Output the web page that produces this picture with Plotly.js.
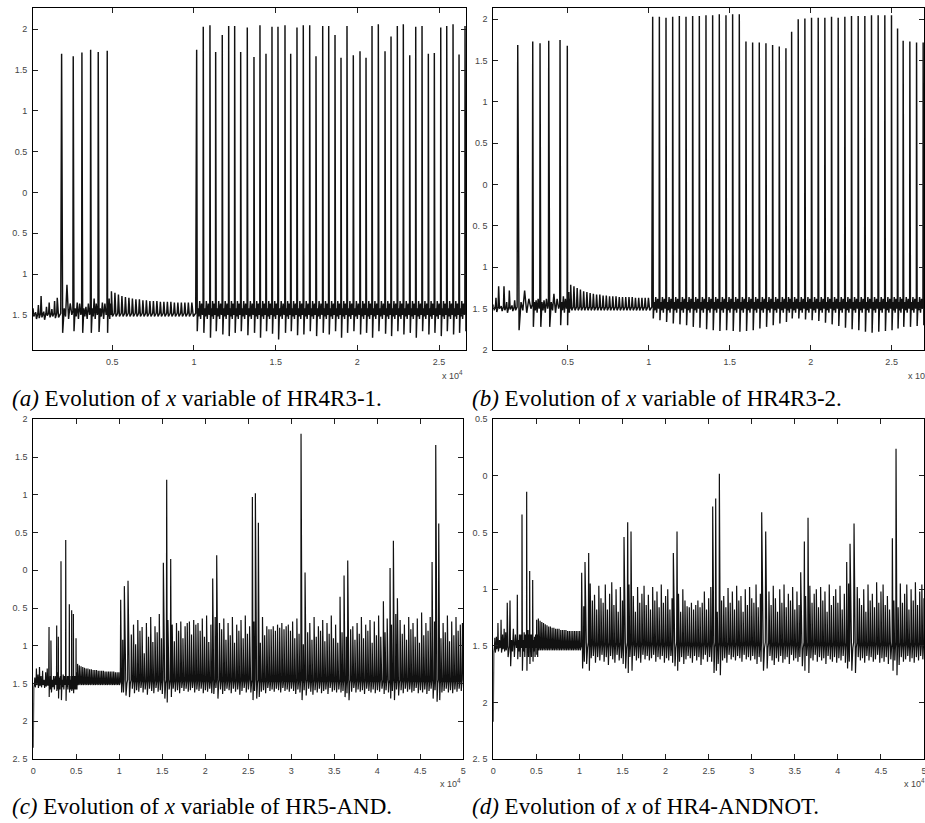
<!DOCTYPE html>
<html>
<head>
<meta charset="utf-8">
<script src="https://cdn.plot.ly/plotly-3.0.1.min.js"></script>
<style>html,body{margin:0;padding:0;background:#fff;}#chart{width:925px;height:823px;}</style>
</head>
<body>
<div id="chart"></div>
<script>
// ---------------- DATA ----------------
// Panel (a) HR4R3-1
const aInitStart = 150, aInitStep = 165;
const aInitPeaks   = [-1.42,-1.47,-1.38,-1.27,-1.46,-1.40,-1.35,-1.43,-1.33,-1.29];
const aInitTroughs = [-1.52,-1.55,-1.54,-1.53,-1.56,-1.51,-1.53,-1.52,-1.54,-1.53];
const aBurstT = [1901, 2612, 3144, 3677, 4142, 4693];
const aBurstP = [1.70, 1.67, 1.715, 1.75, 1.72, 1.735];
const aBurstM = [-1.72,-1.70,-1.72,-1.72,-1.71,-1.72];
const aBurstB = [-1.13,-1.35,-1.40,-1.30,-1.35,-1.30];
const aQuietStart = 4950, aQuietStep = 214;
const aQuietPeaks = [-1.21,-1.23,-1.25,-1.27,-1.28,-1.29,-1.30,-1.31,-1.31,-1.32,-1.32,-1.33,-1.33,-1.33,-1.34,-1.34,-1.34,-1.34,-1.35,-1.35,-1.35,-1.35,-1.35,-1.35];
const aQuietLevels = [-1.52, -1.48];
const aTrainT = [10166,10570,10980,11329,11733,12125,12492,12860,13264,13674,14041,
                 14409,14776,15143,15572,15921,16306,16692,17084,17470,17880,18247,
                 18633,19000,19367,19753,20163,20531,20898,21284,21694,22061,22447,
                 22814,23206,23573,23959,24345,24712,25104,25471,25857,26224,26591];
const aTrainP = [1.75,2.03,2.05,1.72,1.93,2.04,2.04,1.72,2.02,1.66,2.05,
                 1.70,2.03,2.03,2.05,1.70,2.02,2.05,2.05,1.67,2.04,2.04,
                 1.93,1.65,2.04,1.68,1.73,1.65,2.04,2.06,1.73,1.91,2.04,
                 2.06,1.68,2.03,2.04,1.70,1.71,2.02,2.04,2.06,1.69,2.04];
const aTrainM = [-1.70,-1.72,-1.78,-1.70,-1.74,-1.76,-1.72,-1.70,-1.75,-1.72,-1.78,
                 -1.70,-1.73,-1.80,-1.72,-1.70,-1.75,-1.74,-1.70,-1.76,-1.72,-1.74,
                 -1.70,-1.78,-1.72,-1.70,-1.74,-1.72,-1.78,-1.70,-1.73,-1.76,-1.70,
                 -1.74,-1.72,-1.78,-1.70,-1.74,-1.72,-1.76,-1.70,-1.74,-1.72,-1.70];
const aTrainBump = -1.33;
const aBetween = [-1.42,-1.52,-1.55,-1.36,-1.50,-1.45];

// Panel (b) HR4R3-2
const bInitStart = 400, bInitStep = 165;
const bInitPeaks   = [-1.45,-1.37,-1.23,-1.47,-1.23,-1.42,-1.28,-1.46,-1.40];
const bInitTroughs = [-1.52,-1.54,-1.50,-1.53,-1.52,-1.55,-1.51,-1.53,-1.52];
const bBurstT = [1909, 2835, 3286, 3823, 4521, 4971];
const bBurstP = [1.69, 1.73, 1.71, 1.74, 1.75, 1.68];
const bBurstM = [-1.76,-1.72,-1.72,-1.72,-1.70,-1.70];
const bBurstB = [-1.28,-1.40,-1.40,-1.32,-1.35,-1.30];
const bQuietStart = 5180, bQuietStep = 200;
const bQuietPeaks = [-1.21,-1.23,-1.25,-1.27,-1.29,-1.30,-1.31,-1.32,-1.33,-1.33,-1.34,-1.34,-1.35,-1.35,-1.35,-1.36,-1.36,-1.36,-1.36,-1.36,-1.37,-1.37,-1.37,-1.37,-1.37];
const bQuietLevels = [-1.52, -1.48];
const bTrainT = [10243,10655,11066,11478,11889,12301,12712,13124,13535,13947,14358,14770,15181,15593,
                 16004,16416,16827,17239,17650,18062,18473,
                 18824,
                 19231,19643,20054,20466,20877,21289,21700,22112,22523,22935,23346,23758,24169,24581,24992,
                 25367,25713,26127,26540,26948];
const bTrainP = [2.03,2.03,2.02,2.03,2.04,2.03,2.04,2.04,2.05,2.05,2.06,2.05,2.06,2.06,
                 1.73,1.72,1.72,1.71,1.69,1.67,1.65,
                 1.85,
                 2.00,2.01,2.02,2.02,2.02,2.03,2.02,2.03,2.04,2.04,2.04,2.05,2.05,2.05,2.05,
                 1.89,1.74,1.73,1.72,1.72];
const bTrainM = [-1.62,-1.64,-1.66,-1.68,-1.69,-1.70,-1.72,-1.73,-1.75,-1.76,-1.77,-1.76,-1.77,-1.78,
                 -1.77,-1.76,-1.74,-1.72,-1.70,-1.68,-1.66,
                 -1.62,
                 -1.62,-1.63,-1.64,-1.65,-1.67,-1.69,-1.71,-1.73,-1.75,-1.76,-1.78,-1.79,-1.78,-1.77,-1.76,
                 -1.74,-1.72,-1.72,-1.71,-1.70];
const bTrainBump = -1.36;
const bBetween = [-1.42,-1.52,-1.55,-1.38,-1.50,-1.45];

// Panel (c) HR5-AND
const cInitStart = 0, cInitStep = 180;
const cInitPeaks   = [-2.35,-1.42,-1.30,-1.38,-1.28,-1.40,-1.33,-1.45,-1.35,-1.30];
const cInitTroughs = [-1.55,-1.55,-1.52,-1.56,-1.53,-1.55,-1.52,-1.56,-1.54,-1.53];
const cBurstT = [1830, 2050, 2720, 2910, 3220, 3770, 4190, 4460, 4660, 4970];
const cBurstP = [-0.75,-0.93,-0.73,-0.88, 0.12, 0.40,-0.45,-0.53,-0.58,-0.90];
const cBurstM = [-1.68,-1.62,-1.60,-1.70,-1.72,-1.73,-1.62,-1.60,-1.63,-1.58];
const cBurstB = [-1.45,-1.40,-1.35,-1.42,-1.38,-1.40,-1.45,-1.42,-1.40,-1.35];
const cBetween = [-1.45,-1.55,-1.58,-1.40,-1.52,-1.48];
const cQuietStart = 5150, cQuietStep = 200;
const cQuietPeaks = [-1.24,-1.26,-1.27,-1.28,-1.29,-1.30,-1.30,-1.31,-1.31,-1.32,-1.32,-1.32,-1.33,-1.33,-1.33,-1.33,-1.34,-1.34,-1.34,-1.34,-1.34,-1.34,-1.35,-1.35,-1.35];
const cQuietLevels = [-1.52, -1.48];
const cClusterT = [10161,10587,11014,15123,15511,15976,20861,21326,25473,25822,26171,31133,31599,35669,36134,36561,40709,41484,41871,42337,46369,46795,47144];
const cClusterP = [-0.39,-0.21,-0.14,0.10,1.20,0.15,-0.11,0.20,0.97,1.02,0.63,1.81,-0.03,-0.35,-0.07,0.13,-0.41,0.03,0.39,-0.37,0.11,1.66,0.62];
const cClusterM = [-1.62,-1.66,-1.68,-1.70,-1.75,-1.68,-1.64,-1.70,-1.72,-1.70,-1.68,-1.72,-1.66,-1.62,-1.68,-1.72,-1.64,-1.70,-1.72,-1.66,-1.70,-1.74,-1.72];
const cDenseStart = 10150, cDenseStep = 250;
const cDensePeaks = [
 -0.66,-0.92,-0.70,-1.05,-0.68,-0.85,-0.72,-0.98,-0.66,-0.80,
 -0.75,-1.10,-0.70,-0.88,-0.62,-0.95,-0.74,-0.82,-0.58,-0.90,
 -0.70,-1.00,-0.66,-0.86,-0.72,-0.94,-0.70,-0.80,-0.68,-0.90,
 -0.74,-0.70,-0.68,-0.85,-0.66,-0.72,-0.70,-0.80,-0.64,-0.88,
 -0.60,-0.95,-0.72,-0.84,-0.62,-0.90,-0.70,-0.78,-0.64,-0.92,
 -0.70,-0.86,-0.62,-0.96,-0.72,-0.80,-0.66,-0.90,-0.60,-0.84,
 -0.74,-0.92,-0.68,-0.80,-0.70,-0.96,-0.62,-0.86,-0.74,-0.78,
 -0.78,-0.74,-0.80,-0.72,-0.76,-0.70,-0.78,-0.74,-0.72,-0.80,
 -0.68,-0.90,-0.64,-0.84,-0.72,-0.98,-0.66,-0.82,-0.70,-0.92,
 -0.62,-0.88,-0.74,-0.80,-0.66,-0.94,-0.70,-0.84,-0.60,-0.90,
 -0.72,-0.96,-0.64,-0.82,-0.70,-0.88,-0.66,-0.78,-0.74,-0.92,
 -0.70,-0.84,-0.62,-0.90,-0.72,-0.80,-0.66,-0.96,-0.68,-0.86,
 -0.60,-0.88,-0.70,-0.82,-0.64,-0.94,-0.72,-0.80,-0.58,-0.90,
 -0.66,-0.84,-0.72,-0.92,-0.62,-0.78,-0.70,-0.88,-0.64,-0.96,
 -0.56,-0.86,-0.70,-0.80,-0.62,-0.92,-0.68,-0.84,-0.58,-0.90,
 -0.70,-0.82,-0.60,-0.94,-0.68,-0.86,-0.62,-0.80,-0.72,-0.70];
const cDenseTroughs = [
 -1.58,-1.62,-1.56,-1.64,-1.60,-1.57,-1.63,-1.59,-1.61,-1.56,
 -1.62,-1.58,-1.65,-1.57,-1.60,-1.63,-1.56,-1.61,-1.59,-1.64,
 -1.60,-1.66,-1.58,-1.62,-1.57,-1.61,-1.59,-1.63,-1.56,-1.60,
 -1.57,-1.61,-1.59,-1.56,-1.62,-1.58,-1.60,-1.57,-1.63,-1.59,
 -1.61,-1.57,-1.63,-1.59,-1.56,-1.62,-1.58,-1.64,-1.60,-1.57,
 -1.59,-1.63,-1.57,-1.61,-1.58,-1.65,-1.60,-1.56,-1.62,-1.58,
 -1.62,-1.58,-1.60,-1.64,-1.57,-1.61,-1.59,-1.63,-1.56,-1.60,
 -1.58,-1.61,-1.57,-1.59,-1.62,-1.56,-1.60,-1.58,-1.61,-1.57,
 -1.60,-1.64,-1.58,-1.62,-1.66,-1.59,-1.63,-1.57,-1.61,-1.65,
 -1.59,-1.62,-1.57,-1.63,-1.60,-1.58,-1.64,-1.56,-1.61,-1.59,
 -1.62,-1.58,-1.65,-1.60,-1.57,-1.63,-1.59,-1.61,-1.56,-1.62,
 -1.58,-1.61,-1.59,-1.64,-1.57,-1.60,-1.62,-1.58,-1.63,-1.59,
 -1.61,-1.57,-1.63,-1.59,-1.62,-1.56,-1.60,-1.64,-1.58,-1.61,
 -1.59,-1.63,-1.57,-1.61,-1.58,-1.62,-1.60,-1.56,-1.63,-1.59,
 -1.62,-1.58,-1.64,-1.60,-1.57,-1.61,-1.59,-1.65,-1.58,-1.62,
 -1.60,-1.57,-1.62,-1.59,-1.63,-1.58,-1.61,-1.57,-1.60,-1.58];
const cDenseLevels = [-1.50, -1.45];

// Panel (d) HR4-ANDNOT
const dInitStart = 0, dInitStep = 180;
const dInitPeaks   = [-2.17,-1.43,-1.42,-1.30,-1.45,-1.27,-1.40,-1.35,-1.38,-1.12];
const dInitTroughs = [-1.55,-1.56,-1.53,-1.55,-1.52,-1.56,-1.53,-1.55,-1.54,-1.60];
const dBurstT = [1939, 2790, 3332, 3874, 4222, 4571, 5035];
const dBurstP = [-1.10,-1.05,-0.34,-0.14,-0.84,-0.92,-1.27];
const dBurstM = [-1.68,-1.62,-1.72,-1.72,-1.66,-1.64,-1.58];
const dBurstB = [-1.35,-1.40,-1.38,-1.36,-1.40,-1.42,-1.40];
const dBetween = [-1.45,-1.55,-1.60,-1.40,-1.52,-1.48];
const dQuietStart = 5230, dQuietStep = 200;
const dQuietPeaks = [-1.26,-1.28,-1.29,-1.30,-1.31,-1.32,-1.33,-1.33,-1.34,-1.34,-1.35,-1.35,-1.35,-1.36,-1.36,-1.36,-1.36,-1.37,-1.37,-1.37,-1.37,-1.37,-1.37,-1.37,-1.37];
const dQuietLevels = [-1.54, -1.50];
const dClusterT = [10260,10646,11072,15174,15600,15987,20902,21328,25469,25817,26243,31157,31622,35686,36111,36537,41026,41413,41878,46327,46753];
const dClusterP = [-0.855,-0.76,-0.68,-0.54,-0.41,-0.49,-0.68,-0.49,-0.27,-0.20,0.02,-0.32,-0.49,-0.85,-0.58,-0.37,-0.76,-0.60,-0.42,-0.55,0.24];
const dClusterM = [-1.70,-1.66,-1.72,-1.70,-1.74,-1.72,-1.68,-1.72,-1.74,-1.72,-1.76,-1.72,-1.70,-1.68,-1.72,-1.74,-1.70,-1.72,-1.74,-1.72,-1.76];
const dDenseStart = 10250, dDenseStep = 250;
const dDensePeaks = [
 -0.98,-1.15,-1.02,-1.20,-0.95,-1.10,-1.05,-1.18,-0.97,-1.08,
 -1.12,-0.96,-1.18,-1.04,-0.94,-1.14,-1.00,-1.20,-0.98,-1.10,
 -1.02,-1.16,-0.96,-1.10,-1.06,-1.20,-0.98,-1.12,-1.04,-0.97,
 -1.14,-1.05,-1.18,-0.98,-1.10,-1.02,-1.16,-0.96,-1.12,-1.06,
 -1.00,-1.18,-1.08,-0.97,-1.14,-1.04,-1.20,-1.00,-1.10,-1.15,
 -1.16,-1.12,-1.18,-1.14,-1.10,-1.16,-1.12,-1.02,-1.18,-1.08,
 -0.98,-1.14,-1.04,-1.20,-0.96,-1.10,-1.06,-1.16,-0.99,-1.12,
 -1.02,-1.18,-0.97,-1.10,-1.06,-1.20,-1.00,-1.14,-0.98,-1.08,
 -1.12,-0.96,-1.16,-1.04,-1.10,-0.98,-1.18,-1.02,-1.14,-0.97,
 -1.08,-1.20,-1.00,-1.12,-0.96,-1.16,-1.04,-1.10,-0.98,-1.18,
 -1.02,-1.14,-0.95,-1.10,-1.06,-1.18,-0.97,-1.12,-1.04,-1.00,
 -1.16,-0.98,-1.10,-1.02,-1.20,-0.96,-1.14,-1.06,-1.00,-1.12,
 -0.97,-1.18,-1.04,-1.10,-0.95,-1.16,-1.02,-1.12,-0.98,-1.08,
 -1.14,-1.00,-1.20,-0.96,-1.10,-1.04,-1.16,-0.94,-1.12,-1.02,
 -0.96,-1.14,-1.06,-1.18,-0.98,-1.10,-1.02,-1.16,-0.95,-1.12,
 -1.04,-0.96,-1.18,-1.00,-1.10,-0.94,-1.14,-1.02,-0.96,-1.08];
const dDenseTroughs = [
 -1.60,-1.64,-1.58,-1.66,-1.61,-1.59,-1.65,-1.60,-1.63,-1.58,
 -1.64,-1.60,-1.67,-1.59,-1.62,-1.65,-1.58,-1.63,-1.61,-1.66,
 -1.62,-1.68,-1.60,-1.64,-1.59,-1.63,-1.61,-1.65,-1.58,-1.62,
 -1.59,-1.63,-1.61,-1.58,-1.64,-1.60,-1.62,-1.59,-1.65,-1.61,
 -1.63,-1.59,-1.65,-1.61,-1.58,-1.64,-1.60,-1.66,-1.62,-1.59,
 -1.61,-1.65,-1.59,-1.63,-1.60,-1.67,-1.62,-1.58,-1.64,-1.60,
 -1.64,-1.60,-1.62,-1.66,-1.59,-1.63,-1.61,-1.65,-1.58,-1.62,
 -1.60,-1.63,-1.59,-1.61,-1.64,-1.58,-1.62,-1.60,-1.63,-1.59,
 -1.62,-1.66,-1.60,-1.64,-1.68,-1.61,-1.65,-1.59,-1.63,-1.67,
 -1.61,-1.64,-1.59,-1.65,-1.62,-1.60,-1.66,-1.58,-1.63,-1.61,
 -1.64,-1.60,-1.67,-1.62,-1.59,-1.65,-1.61,-1.63,-1.58,-1.64,
 -1.60,-1.63,-1.61,-1.66,-1.59,-1.62,-1.64,-1.60,-1.65,-1.61,
 -1.63,-1.59,-1.65,-1.61,-1.64,-1.58,-1.62,-1.66,-1.60,-1.63,
 -1.61,-1.65,-1.59,-1.63,-1.60,-1.64,-1.62,-1.58,-1.65,-1.61,
 -1.64,-1.60,-1.66,-1.62,-1.59,-1.63,-1.61,-1.67,-1.60,-1.64,
 -1.62,-1.59,-1.64,-1.61,-1.65,-1.60,-1.63,-1.59,-1.62,-1.60];
const dDenseLevels = [-1.52, -1.47];

// Axes labels
const yTickValsA = [2,1.5,1,0.5,0,-0.5,-1,-1.5];
const yTickTextA = ['2','1.5','1','0.5','0','0. 5','1','1. 5'];
const yTickValsB = [2,1.5,1,0.5,0,-0.5,-1,-1.5,-2];
const yTickTextB = ['2','1.5','1','0.5','0','0. 5','1','1. 5','2'];
const yTickValsC = [2,1.5,1,0.5,0,-0.5,-1,-1.5,-2,-2.5];
const yTickTextC = ['2','1.5','1','0.5','0','0. 5','1','1. 5','2','2. 5'];
const yTickValsD = [0.5,0,-0.5,-1,-1.5,-2,-2.5];
const yTickTextD = ['0.5','0','0. 5','1','1. 5','2','2. 5'];
const xTickValsAB = [5000,10000,15000,20000,25000];
const xTickTextAB = ['0.5','1','1.5','2','2.5'];
const xTickValsCD = [0,5000,10000,15000,20000,25000,30000,35000,40000,45000,50000];
const xTickTextCD = ['0','0.5','1','1.5','2','2.5','3','3.5','4','4.5','5'];
const captions = [
  '<i>(a)</i> Evolution of <i>x</i> variable of HR4R3-1.',
  '<i>(b)</i> Evolution of <i>x</i> variable of HR4R3-2.',
  '<i>(c)</i> Evolution of <i>x</i> variable of HR5-AND.',
  '<i>(d)</i> Evolution of <i>x</i> of HR4-ANDNOT.'
];

// ---------------- BUILD ----------------
function grid(start, step, peaks, troughs, kind) {
  return peaks.map((p, i) => ({t: start + i * step, p: p, m: Array.isArray(troughs) ? troughs[i] : troughs, kind: kind}));
}
function list(times, peaks, troughs, kind, bumps) {
  return times.map((t, i) => ({t: t, p: peaks[i], m: troughs[i], kind: kind, b: Array.isArray(bumps) ? bumps[i] : bumps}));
}
function build(events, endT, between, quietLevels, denseLevels) {
  events.sort((u, v) => u.t - v.t);
  const xs = [], ys = [];
  for (let i = 0; i < events.length; i++) {
    const e = events[i];
    const D = (i + 1 < events.length ? events[i + 1].t : endT) - e.t;
    xs.push(e.t); ys.push(e.p);
    let shape;
    if (e.kind === 'spike') {
      shape = [[0.09, e.m], [0.22, between[0]], [0.34, between[1]], [0.46, e.b], [0.60, between[2]],
               [0.74, between[3]], [0.88, between[4]], [0.97, between[5]]];
    } else if (e.kind === 'dense') {
      shape = [[0.45, e.m], [0.70, denseLevels[0]], [0.90, denseLevels[1]]];
    } else {
      shape = [[0.30, e.m], [0.80, quietLevels[1]]];
    }
    shape.forEach(s => { xs.push(e.t + s[0] * D); ys.push(s[1]); });
  }
  return {x: xs, y: ys};
}
function denseGrid(start, step, peaks, troughs, clusterT) {
  return grid(start, step, peaks, troughs, 'dense').filter(e => !clusterT.some(t => Math.abs(t - e.t) < step * 0.55));
}

const evA = [].concat(
  grid(aInitStart, aInitStep, aInitPeaks, aInitTroughs, 'osc'),
  list(aBurstT, aBurstP, aBurstM, 'spike', aBurstB),
  grid(aQuietStart, aQuietStep, aQuietPeaks, aQuietLevels[0], 'osc'),
  list(aTrainT, aTrainP, aTrainM, 'spike', aTrainBump));
const evB = [].concat(
  grid(bInitStart, bInitStep, bInitPeaks, bInitTroughs, 'osc'),
  list(bBurstT, bBurstP, bBurstM, 'spike', bBurstB),
  grid(bQuietStart, bQuietStep, bQuietPeaks, bQuietLevels[0], 'osc'),
  list(bTrainT, bTrainP, bTrainM, 'spike', bTrainBump));
const evC = [].concat(
  grid(cInitStart, cInitStep, cInitPeaks, cInitTroughs, 'osc'),
  list(cBurstT, cBurstP, cBurstM, 'spike', cBurstB),
  grid(cQuietStart, cQuietStep, cQuietPeaks, cQuietLevels[0], 'osc'),
  list(cClusterT, cClusterP, cClusterM, 'dense'),
  denseGrid(cDenseStart, cDenseStep, cDensePeaks, cDenseTroughs, cClusterT));
const evD = [].concat(
  grid(dInitStart, dInitStep, dInitPeaks, dInitTroughs, 'osc'),
  list(dBurstT, dBurstP, dBurstM, 'spike', dBurstB),
  grid(dQuietStart, dQuietStep, dQuietPeaks, dQuietLevels[0], 'osc'),
  list(dClusterT, dClusterP, dClusterM, 'dense'),
  denseGrid(dDenseStart, dDenseStep, dDensePeaks, dDenseTroughs, dClusterT));

const trA = build(evA, 27200, aBetween, aQuietLevels, null);
const trB = build(evB, 27400, bBetween, bQuietLevels, null);
const trC = build(evC, 50250, cBetween, cQuietLevels, cDenseLevels);
const trD = build(evD, 50250, dBetween, dQuietLevels, dDenseLevels);

const lineTop = {color: '#111', width: 1.45, simplify: false};
const lineBottom = {color: '#111', width: 1.2, simplify: false};
const traces = [
  {x: trA.x, y: trA.y, xaxis: 'x', yaxis: 'y', type: 'scatter', mode: 'lines', line: lineTop, hoverinfo: 'skip'},
  {x: trB.x, y: trB.y, xaxis: 'x2', yaxis: 'y2', type: 'scatter', mode: 'lines', line: lineTop, hoverinfo: 'skip'},
  {x: trC.x, y: trC.y, xaxis: 'x3', yaxis: 'y3', type: 'scatter', mode: 'lines', line: lineBottom, hoverinfo: 'skip'},
  {x: trD.x, y: trD.y, xaxis: 'x4', yaxis: 'y4', type: 'scatter', mode: 'lines', line: lineBottom, hoverinfo: 'skip'}
];

// ---------------- LAYOUT ----------------
const W = 925, H = 823;
const px = v => v / W, py = v => 1 - v / H;
const tickFont = {family: 'Liberation Sans, Arial, sans-serif', size: 9, color: '#444'};
const capFont = {family: 'Liberation Serif, Times New Roman, serif', size: 23, color: '#000'};
function ax(extra) {
  return Object.assign({
    showline: true, linecolor: '#000', linewidth: 1, mirror: 'ticks',
    ticks: 'inside', ticklen: 5, tickwidth: 1, tickcolor: '#222',
    showgrid: false, zeroline: false, tickfont: tickFont, ticklabelstandoff: 3,
    ticklabeloverflow: 'allow', tickmode: 'array', fixedrange: true
  }, extra);
}
function note(text, x, y, anchor, font) {
  return {text: text, xref: 'paper', yref: 'paper', x: px(x), y: py(y), xanchor: anchor, yanchor: 'middle', showarrow: false, font: font};
}
const layout = {
  width: W, height: H, margin: {l: 0, r: 0, t: 0, b: 0},
  paper_bgcolor: '#fff', plot_bgcolor: '#fff', showlegend: false,
  xaxis:  ax({domain: [px(33), px(466)], anchor: 'y', range: [150, 26650], tickvals: xTickValsAB, ticktext: xTickTextAB}),
  yaxis:  ax({domain: [py(350), py(8)], anchor: 'x', range: [-1.93, 2.26], tickvals: yTickValsA, ticktext: yTickTextA}),
  xaxis2: ax({domain: [px(493.3), px(924)], anchor: 'y2', range: [400, 27000], tickvals: xTickValsAB, ticktext: xTickTextAB}),
  yaxis2: ax({domain: [py(350), py(8.3)], anchor: 'x2', range: [-2, 2.133], tickvals: yTickValsB, ticktext: yTickTextB}),
  xaxis3: ax({domain: [px(33.3), px(463.3)], anchor: 'y3', range: [0, 50000], tickvals: xTickValsCD, ticktext: xTickTextCD}),
  yaxis3: ax({domain: [py(759), py(419.3)], anchor: 'x3', range: [-2.5, 2], tickvals: yTickValsC, ticktext: yTickTextC}),
  xaxis4: ax({domain: [px(493.3), px(924)], anchor: 'y4', range: [0, 50000], tickvals: xTickValsCD, ticktext: xTickTextCD}),
  yaxis4: ax({domain: [py(759), py(419.3)], anchor: 'x4', range: [-2.5, 0.5], tickvals: yTickValsD, ticktext: yTickTextD}),
  annotations: [
    note('x 10<sup>4</sup>', 465, 375, 'right', tickFont),
    note('x 10<sup>4</sup>', 906, 375, 'left', tickFont),
    note('x 10<sup>4</sup>', 463, 783, 'right', tickFont),
    note('x 10<sup>4</sup>', 902, 783, 'left', tickFont),
    note(captions[0], 10, 398, 'left', capFont),
    note(captions[1], 470, 398, 'left', capFont),
    note(captions[2], 10, 806, 'left', capFont),
    note(captions[3], 470, 806, 'left', capFont)
  ]
};
Plotly.newPlot('chart', traces, layout, {staticPlot: true, displayModeBar: false});
</script>
</body>
</html>
